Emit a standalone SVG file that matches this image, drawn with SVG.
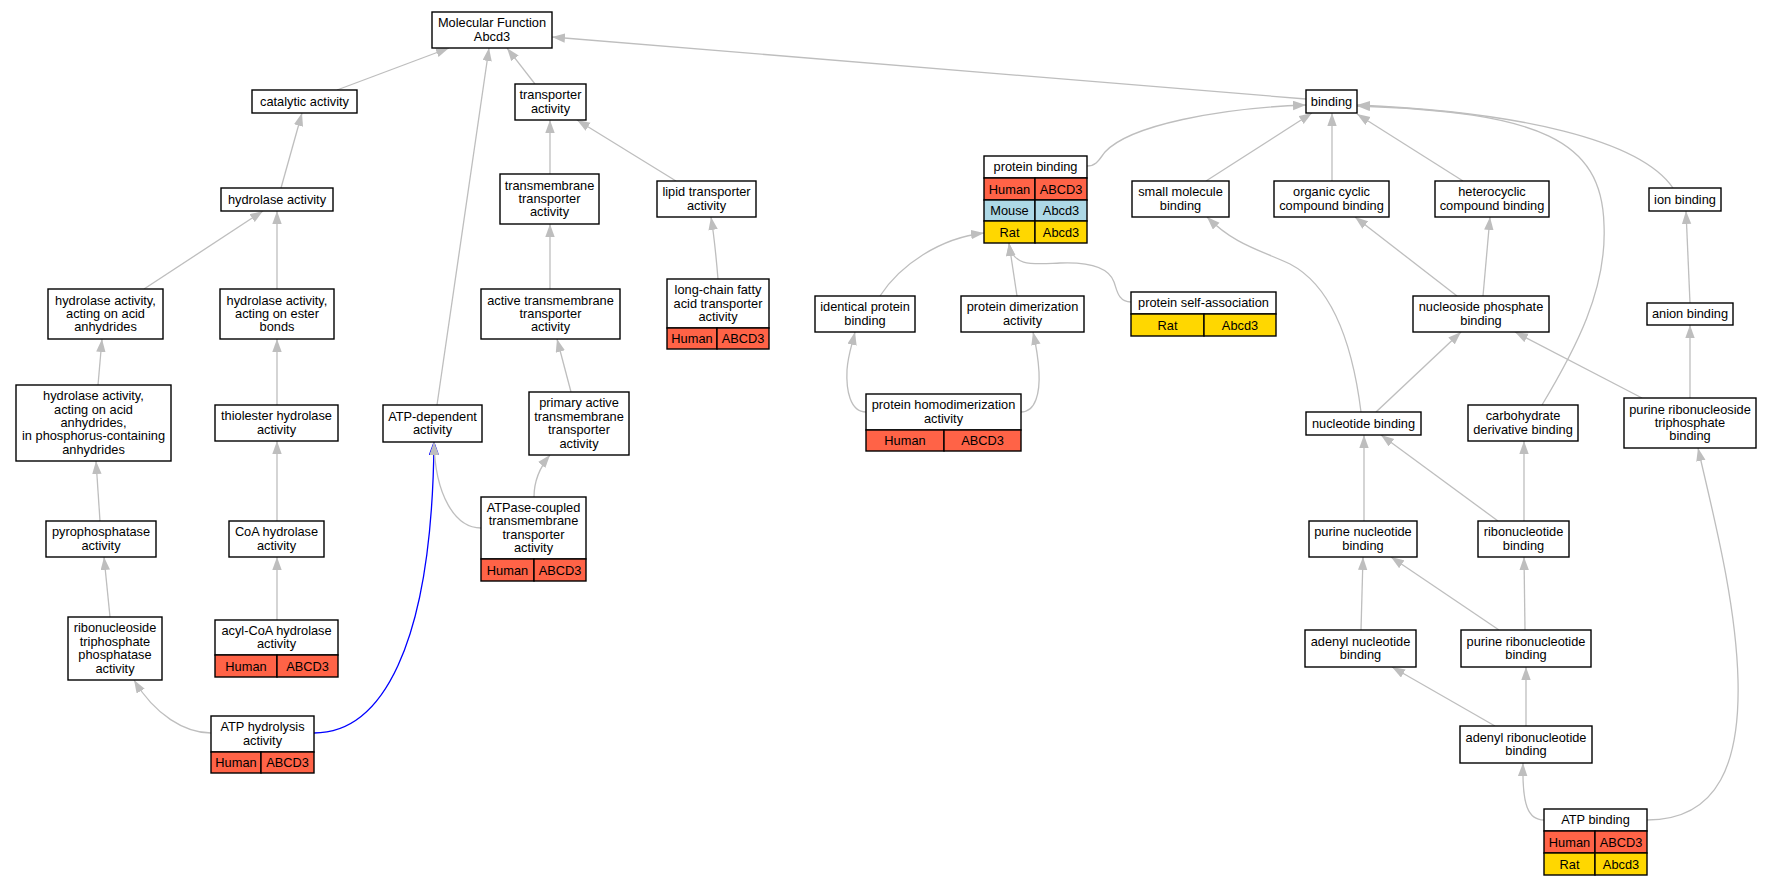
<svg xmlns="http://www.w3.org/2000/svg" width="1771" height="885" viewBox="0 0 1771 885">
<style>
text{font-family:"Liberation Sans",Arial,Helvetica,sans-serif;font-size:12.8px;text-anchor:middle;fill:#000}
.n rect{fill:#fff;stroke:#000;stroke-width:1.4}
.n rect.hu{fill:#ff6347}
.n rect.mo{fill:#add8e6}
.n rect.ra{fill:#ffd700}
.e path{fill:none;stroke:#bebebe;stroke-width:1.3;marker-end:url(#a)}
.e path.bl{stroke:#0000ff;marker-end:url(#b)}
</style>
<defs>
<marker id="a" markerUnits="userSpaceOnUse" markerWidth="14" markerHeight="10" refX="13" refY="4.7" orient="auto"><path d="M0,0 L13,4.7 L0,9.4 z" fill="#bebebe"/></marker>
<marker id="b" markerUnits="userSpaceOnUse" markerWidth="15" markerHeight="11" refX="13" refY="5.2" orient="auto"><path d="M0,0.5 L13,5.2 L0,9.9 z" fill="#c4c4dc" stroke="#0000ff" stroke-width="0.9"/></marker>
</defs>
<rect width="1771" height="885" fill="#fff"/>
<g id="edges" class="e">
<path class="bl" d="M314,733 C380,733 432,650 434,442"/>
<path d="M337,90 L449,48"/>
<path d="M437,405 L489,48"/>
<path d="M535,84 L507,48"/>
<path d="M1306,99 L552,37"/>
<path d="M281,188 L302,113"/>
<path d="M550,174 L550,120"/>
<path d="M676,181 L577,120"/>
<path d="M718,279 C716,255 714,235 711,217"/>
<path d="M144,289 L263,211"/>
<path d="M277,289 L277,211"/>
<path d="M550,289 L550,224"/>
<path d="M98,385 L102,339"/>
<path d="M277,405 L277,339"/>
<path d="M571,392 L557,339"/>
<path d="M100,521 L96,461"/>
<path d="M277,521 L277,441"/>
<path d="M534,497 C534,482 540,467 550,455"/>
<path d="M481,528 C455,528 435,495 434,442"/>
<path d="M110,617 L104,557"/>
<path d="M277,620 L277,557"/>
<path d="M211,733 C185,733 155,715 134,680"/>
<path d="M1087,166 C1097,166 1100,158 1105,152 C1130,125 1220,108 1306,105"/>
<path d="M1206,181 L1312,113"/>
<path d="M1332,181 L1332,113"/>
<path d="M1463,181 L1357,114"/>
<path d="M1673,188 C1640,140 1520,112 1357,105"/>
<path d="M1542,405 C1575,350 1607,290 1604,225 C1602,140 1540,112 1357,106"/>
<path d="M1017,296 L1009,243"/>
<path d="M880,296 C900,265 940,238 984,233"/>
<path d="M1131,302 C1118,302 1117,290 1114,282 C1108,265 1085,262 1060,263 C1035,264 1012,268 1009,243"/>
<path d="M866,412 C850,412 846,390 847,370 C848,355 852,345 855,332"/>
<path d="M1021,412 C1036,412 1040,392 1039,372 C1038,355 1036,345 1033,332"/>
<path d="M1457,296 L1355,217"/>
<path d="M1483,296 L1490,217"/>
<path d="M1361,412 C1352,340 1330,285 1290,264 C1260,250 1235,245 1207,217"/>
<path d="M1376,412 L1461,332"/>
<path d="M1642,398 L1515,332"/>
<path d="M1690,303 L1686,211"/>
<path d="M1690,398 L1690,325"/>
<path d="M1364,521 L1364,435"/>
<path d="M1498,521 L1381,435"/>
<path d="M1524,521 L1524,441"/>
<path d="M1361,630 L1363,557"/>
<path d="M1499,630 L1391,557"/>
<path d="M1525,630 L1524,557"/>
<path d="M1495,726 L1392,667"/>
<path d="M1526,726 L1526,667"/>
<path d="M1544,820 C1528,820 1522,805 1523,763"/>
<path d="M1647,820 C1720,820 1740,760 1738,680 C1736,600 1712,510 1698,448"/>
</g>
<g id="n_mf" class="n"><rect x="432" y="12" width="120" height="36"/><text x="492" y="27">Molecular Function</text><text x="492" y="40.5">Abcd3</text></g>
<g id="n_catalytic" class="n"><rect x="252" y="90" width="105" height="23"/><text x="304.5" y="105.5">catalytic activity</text></g>
<g id="n_transporter" class="n"><rect x="515" y="84" width="71" height="36"/><text x="550.5" y="99.3">transporter</text><text x="550.5" y="112.7">activity</text></g>
<g id="n_binding" class="n"><rect x="1306" y="90" width="51" height="23"/><text x="1331.5" y="105.5">binding</text></g>
<g id="n_hydrolase" class="n"><rect x="221" y="188" width="112" height="23"/><text x="277" y="203.5">hydrolase activity</text></g>
<g id="n_tmtransporter" class="n"><rect x="500" y="174" width="99" height="50"/><text x="549.5" y="189.6">transmembrane</text><text x="549.5" y="203">transporter</text><text x="549.5" y="216.4">activity</text></g>
<g id="n_lipid" class="n"><rect x="657" y="181" width="99" height="36"/><text x="706.5" y="196.3">lipid transporter</text><text x="706.5" y="209.7">activity</text></g>
<g id="n_longchain" class="n"><rect x="667" y="279" width="102" height="49"/><rect class="hu" x="667" y="328" width="50" height="21"/><rect class="hu" x="717" y="328" width="52" height="21"/><text x="718" y="294.1">long-chain fatty</text><text x="718" y="307.5">acid transporter</text><text x="718" y="320.9">activity</text><text x="692" y="343">Human</text><text x="743" y="343">ABCD3</text></g>
<g id="n_proteinbinding" class="n"><rect x="984" y="156" width="103" height="22"/><rect class="hu" x="984" y="178" width="51" height="22"/><rect class="hu" x="1035" y="178" width="52" height="22"/><rect class="mo" x="984" y="200" width="51" height="21"/><rect class="mo" x="1035" y="200" width="52" height="21"/><rect class="ra" x="984" y="221" width="51" height="22"/><rect class="ra" x="1035" y="221" width="52" height="22"/><text x="1035.5" y="171">protein binding</text><text x="1009.5" y="193.5">Human</text><text x="1061" y="193.5">ABCD3</text><text x="1009.5" y="215">Mouse</text><text x="1061" y="215">Abcd3</text><text x="1009.5" y="236.5">Rat</text><text x="1061" y="236.5">Abcd3</text></g>
<g id="n_smallmolecule" class="n"><rect x="1132" y="181" width="97" height="36"/><text x="1180.5" y="196.3">small molecule</text><text x="1180.5" y="209.7">binding</text></g>
<g id="n_organiccyclic" class="n"><rect x="1274" y="181" width="115" height="36"/><text x="1331.5" y="196.3">organic cyclic</text><text x="1331.5" y="209.7">compound binding</text></g>
<g id="n_heterocyclic" class="n"><rect x="1435" y="181" width="114" height="36"/><text x="1492" y="196.3">heterocyclic</text><text x="1492" y="209.7">compound binding</text></g>
<g id="n_ion" class="n"><rect x="1649" y="188" width="72" height="23"/><text x="1685" y="203.5">ion binding</text></g>
<g id="n_acidanhydrides" class="n"><rect x="48" y="289" width="115" height="50"/><text x="105.5" y="304.6">hydrolase activity,</text><text x="105.5" y="318">acting on acid</text><text x="105.5" y="331.4">anhydrides</text></g>
<g id="n_esterbonds" class="n"><rect x="220" y="289" width="114" height="50"/><text x="277" y="304.6">hydrolase activity,</text><text x="277" y="318">acting on ester</text><text x="277" y="331.4">bonds</text></g>
<g id="n_activetm" class="n"><rect x="481" y="289" width="139" height="50"/><text x="550.5" y="304.6">active transmembrane</text><text x="550.5" y="318">transporter</text><text x="550.5" y="331.4">activity</text></g>
<g id="n_identical" class="n"><rect x="815" y="296" width="100" height="36"/><text x="865" y="311.3">identical protein</text><text x="865" y="324.7">binding</text></g>
<g id="n_dimerization" class="n"><rect x="961" y="296" width="123" height="36"/><text x="1022.5" y="311.3">protein dimerization</text><text x="1022.5" y="324.7">activity</text></g>
<g id="n_selfassoc" class="n"><rect x="1131" y="292" width="145" height="22"/><rect class="ra" x="1131" y="314" width="73" height="22"/><rect class="ra" x="1204" y="314" width="72" height="22"/><text x="1203.5" y="307">protein self-association</text><text x="1167.5" y="329.5">Rat</text><text x="1240" y="329.5">Abcd3</text></g>
<g id="n_nucleosidephosphate" class="n"><rect x="1413" y="296" width="136" height="36"/><text x="1481" y="311.3">nucleoside phosphate</text><text x="1481" y="324.7">binding</text></g>
<g id="n_anion" class="n"><rect x="1647" y="303" width="86" height="22"/><text x="1690" y="318">anion binding</text></g>
<g id="n_phosphorus" class="n"><rect x="16" y="385" width="155" height="76"/><text x="93.5" y="400.2">hydrolase activity,</text><text x="93.5" y="413.6">acting on acid</text><text x="93.5" y="427">anhydrides,</text><text x="93.5" y="440.4">in phosphorus-containing</text><text x="93.5" y="453.8">anhydrides</text></g>
<g id="n_thiolester" class="n"><rect x="215" y="405" width="123" height="36"/><text x="276.5" y="420.3">thiolester hydrolase</text><text x="276.5" y="433.7">activity</text></g>
<g id="n_atpdependent" class="n"><rect x="383" y="405" width="99" height="37"/><text x="432.5" y="420.8">ATP-dependent</text><text x="432.5" y="434.2">activity</text></g>
<g id="n_primaryactive" class="n"><rect x="529" y="392" width="100" height="63"/><text x="579" y="407.4">primary active</text><text x="579" y="420.8">transmembrane</text><text x="579" y="434.2">transporter</text><text x="579" y="447.6">activity</text></g>
<g id="n_homodimer" class="n"><rect x="866" y="394" width="155" height="36"/><rect class="hu" x="866" y="430" width="78" height="21"/><rect class="hu" x="944" y="430" width="77" height="21"/><text x="943.5" y="409.3">protein homodimerization</text><text x="943.5" y="422.7">activity</text><text x="905" y="445">Human</text><text x="982.5" y="445">ABCD3</text></g>
<g id="n_nucleotide" class="n"><rect x="1306" y="412" width="115" height="23"/><text x="1363.5" y="427.5">nucleotide binding</text></g>
<g id="n_carbohydrate" class="n"><rect x="1468" y="405" width="110" height="36"/><text x="1523" y="420.3">carbohydrate</text><text x="1523" y="433.7">derivative binding</text></g>
<g id="n_purineribotriph" class="n"><rect x="1624" y="398" width="132" height="50"/><text x="1690" y="413.6">purine ribonucleoside</text><text x="1690" y="427">triphosphate</text><text x="1690" y="440.4">binding</text></g>
<g id="n_pyrophosphatase" class="n"><rect x="46" y="521" width="110" height="36"/><text x="101" y="536.3">pyrophosphatase</text><text x="101" y="549.7">activity</text></g>
<g id="n_coa" class="n"><rect x="229" y="521" width="95" height="36"/><text x="276.5" y="536.3">CoA hydrolase</text><text x="276.5" y="549.7">activity</text></g>
<g id="n_atpase" class="n"><rect x="481" y="497" width="105" height="62"/><rect class="hu" x="481" y="559" width="53" height="22"/><rect class="hu" x="534" y="559" width="52" height="22"/><text x="533.5" y="511.9">ATPase-coupled</text><text x="533.5" y="525.3">transmembrane</text><text x="533.5" y="538.7">transporter</text><text x="533.5" y="552.1">activity</text><text x="507.5" y="574.5">Human</text><text x="560" y="574.5">ABCD3</text></g>
<g id="n_purinenucleotide" class="n"><rect x="1309" y="521" width="108" height="36"/><text x="1363" y="536.3">purine nucleotide</text><text x="1363" y="549.7">binding</text></g>
<g id="n_ribonucleotide" class="n"><rect x="1478" y="521" width="91" height="36"/><text x="1523.5" y="536.3">ribonucleotide</text><text x="1523.5" y="549.7">binding</text></g>
<g id="n_rntpphosphatase" class="n"><rect x="68" y="617" width="94" height="63"/><text x="115" y="632.4">ribonucleoside</text><text x="115" y="645.8">triphosphate</text><text x="115" y="659.2">phosphatase</text><text x="115" y="672.6">activity</text></g>
<g id="n_acylcoa" class="n"><rect x="215" y="620" width="123" height="35"/><rect class="hu" x="215" y="655" width="62" height="22"/><rect class="hu" x="277" y="655" width="61" height="22"/><text x="276.5" y="634.8">acyl-CoA hydrolase</text><text x="276.5" y="648.2">activity</text><text x="246" y="670.5">Human</text><text x="307.5" y="670.5">ABCD3</text></g>
<g id="n_adenylnucleotide" class="n"><rect x="1305" y="630" width="111" height="37"/><text x="1360.5" y="645.8">adenyl nucleotide</text><text x="1360.5" y="659.2">binding</text></g>
<g id="n_purineribonucleotide" class="n"><rect x="1461" y="630" width="130" height="37"/><text x="1526" y="645.8">purine ribonucleotide</text><text x="1526" y="659.2">binding</text></g>
<g id="n_atphydrolysis" class="n"><rect x="211" y="716" width="103" height="36"/><rect class="hu" x="211" y="752" width="50" height="21"/><rect class="hu" x="261" y="752" width="53" height="21"/><text x="262.5" y="731.3">ATP hydrolysis</text><text x="262.5" y="744.7">activity</text><text x="236" y="767">Human</text><text x="287.5" y="767">ABCD3</text></g>
<g id="n_adenylribonucleotide" class="n"><rect x="1460" y="726" width="132" height="37"/><text x="1526" y="741.8">adenyl ribonucleotide</text><text x="1526" y="755.2">binding</text></g>
<g id="n_atpbinding" class="n"><rect x="1544" y="809" width="103" height="22"/><rect class="hu" x="1544" y="831" width="51" height="22"/><rect class="hu" x="1595" y="831" width="52" height="22"/><rect class="ra" x="1544" y="853" width="51" height="22"/><rect class="ra" x="1595" y="853" width="52" height="22"/><text x="1595.5" y="824">ATP binding</text><text x="1569.5" y="846.5">Human</text><text x="1621" y="846.5">ABCD3</text><text x="1569.5" y="868.5">Rat</text><text x="1621" y="868.5">Abcd3</text></g>
</svg>
